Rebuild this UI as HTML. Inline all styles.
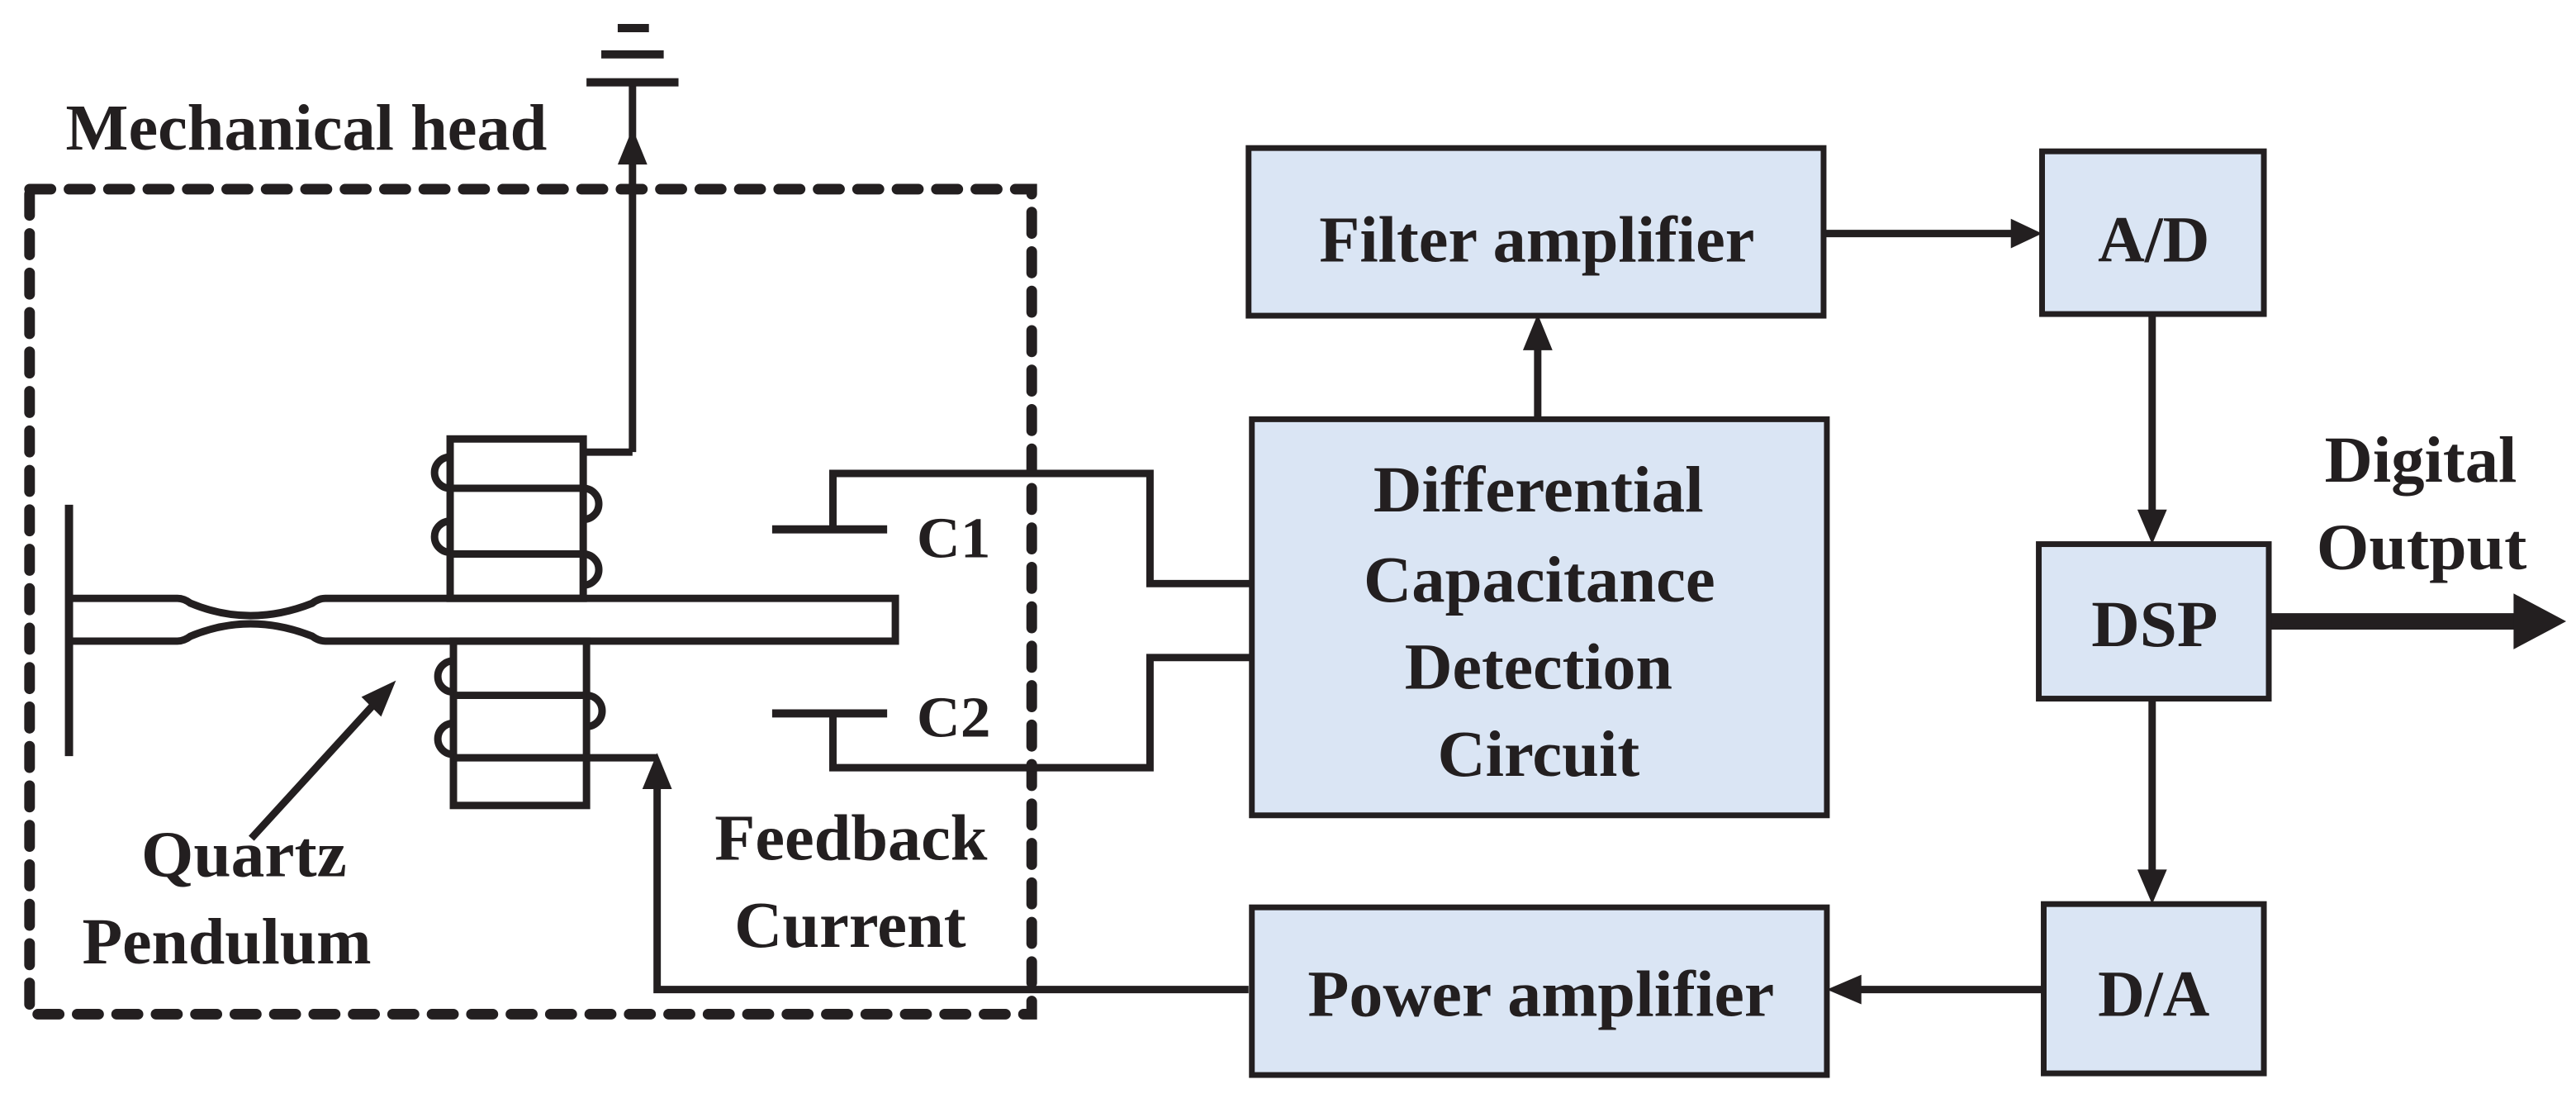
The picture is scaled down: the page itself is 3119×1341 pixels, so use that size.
<!DOCTYPE html>
<html><head><meta charset="utf-8"><style>
html,body{margin:0;padding:0;background:#fff;}
svg{display:block;}
text{font-family:"Liberation Serif",serif;font-weight:bold;fill:#231f20;}
</style></head><body>
<svg width="3119" height="1341" viewBox="0 0 1568 674" xmlns="http://www.w3.org/2000/svg">
<g stroke="#231f20" fill="none" stroke-width="4.5">
<rect x="18" y="115" width="610" height="502" stroke-width="6.5" stroke-dasharray="13 11" stroke-linecap="round"/>
<line x1="385" y1="275" x2="385" y2="52"/>
<line x1="357" y1="50" x2="413" y2="50" stroke-width="5"/>
<line x1="366" y1="33" x2="404" y2="33" stroke-width="5"/>
<line x1="376" y1="17" x2="395" y2="17" stroke-width="5"/>
<line x1="355" y1="275" x2="385" y2="275"/>
<line x1="42" y1="307" x2="42" y2="460" stroke-width="5"/>
<path d="M42 364 H108 Q112 364 116 367 Q152 382 190 367 Q194 364 198 364 H545 V390 H198 Q194 390 190 387 Q152 372 116 387 Q112 390 108 390 H42"/>
<rect x="274" y="267" width="81" height="97"/>
<line x1="274" y1="297" x2="355" y2="297"/>
<line x1="274" y1="337" x2="355" y2="337"/>
<rect x="276" y="390" width="81" height="100"/>
<line x1="276" y1="423" x2="357" y2="423"/>
<line x1="276" y1="461" x2="357" y2="461"/>
<path d="M274 278 A9.5 9.5 0 0 0 274 297"/>
<path d="M274 317 A9.5 9.5 0 0 0 274 336"/>
<path d="M355 297 A9.5 9.5 0 0 1 355 316"/>
<path d="M355 337 A9.5 9.5 0 0 1 355 356"/>
<path d="M276 402 A9.5 9.5 0 0 0 276 421"/>
<path d="M276 440 A9.5 9.5 0 0 0 276 459"/>
<path d="M357 423 A9.5 9.5 0 0 1 357 442"/>
<polyline points="357,461 400,461"/>
<polyline points="760,602 400,602 400,478"/>
<line x1="153" y1="510" x2="228" y2="428"/>
<line x1="470" y1="322" x2="540" y2="322" stroke-width="5"/>
<line x1="470" y1="434" x2="540" y2="434" stroke-width="5"/>
<polyline points="507,322 507,288 700,288 700,355 762,355"/>
<polyline points="507,434 507,467 700,467 700,400 762,400"/>
<line x1="1110" y1="142" x2="1226" y2="142"/>
<line x1="936" y1="255" x2="936" y2="210"/>
<line x1="1310" y1="191" x2="1310" y2="314"/>
<line x1="1310" y1="425" x2="1310" y2="533"/>
<line x1="1244" y1="602" x2="1130" y2="602"/>
<line x1="1381" y1="378" x2="1532" y2="378" stroke-width="10"/>
</g>
<g fill="#231f20">
<polygon points="385,78 376,100 394,100"/>
<polygon points="400,458 391,480 409,480"/>
<polygon points="241,414 220,424 232,436"/>
<polygon points="1243,142 1224,133 1224,151"/>
<polygon points="936,191 927,213 945,213"/>
<polygon points="1310,331 1301,310 1319,310"/>
<polygon points="1310,550 1301,529 1319,529"/>
<polygon points="1112,602 1133,593 1133,611"/>
<polygon points="1562,378 1530,361 1530,395"/>
</g>
<g fill="#dae5f4" stroke="#231f20" stroke-width="3.5">
<rect x="760" y="90" width="350" height="102"/>
<rect x="762" y="255" width="350" height="241"/>
<rect x="762" y="552" width="350" height="102"/>
<rect x="1243" y="92" width="135" height="99"/>
<rect x="1241" y="331" width="140" height="94"/>
<rect x="1244" y="550" width="134" height="103"/>
</g>
<g font-size="40">
<text x="40" y="91" textLength="293" lengthAdjust="spacingAndGlyphs">Mechanical head</text>
<text x="86" y="533" textLength="125" lengthAdjust="spacingAndGlyphs">Quartz</text>
<text x="50" y="586" textLength="176" lengthAdjust="spacingAndGlyphs">Pendulum</text>
<text x="435" y="523" textLength="166" lengthAdjust="spacingAndGlyphs">Feedback</text>
<text x="447" y="576" textLength="141" lengthAdjust="spacingAndGlyphs">Current</text>
<text x="558" y="339" font-size="35" textLength="45" lengthAdjust="spacingAndGlyphs">C1</text>
<text x="558" y="448" font-size="35" textLength="45" lengthAdjust="spacingAndGlyphs">C2</text>
<text x="803" y="159" textLength="265" lengthAdjust="spacingAndGlyphs">Filter amplifier</text>
<text x="836" y="311" textLength="201" lengthAdjust="spacingAndGlyphs">Differential</text>
<text x="830" y="366" textLength="214" lengthAdjust="spacingAndGlyphs">Capacitance</text>
<text x="855" y="419" textLength="163" lengthAdjust="spacingAndGlyphs">Detection</text>
<text x="875" y="472" textLength="123" lengthAdjust="spacingAndGlyphs">Circuit</text>
<text x="796" y="618" textLength="284" lengthAdjust="spacingAndGlyphs">Power amplifier</text>
<text x="1277" y="159" textLength="68" lengthAdjust="spacingAndGlyphs">A/D</text>
<text x="1273" y="393" textLength="77" lengthAdjust="spacingAndGlyphs">DSP</text>
<text x="1277" y="618" textLength="68" lengthAdjust="spacingAndGlyphs">D/A</text>
<text x="1415" y="293" textLength="117" lengthAdjust="spacingAndGlyphs">Digital</text>
<text x="1410" y="346" textLength="128" lengthAdjust="spacingAndGlyphs">Output</text>
</g>
</svg>
</body></html>
